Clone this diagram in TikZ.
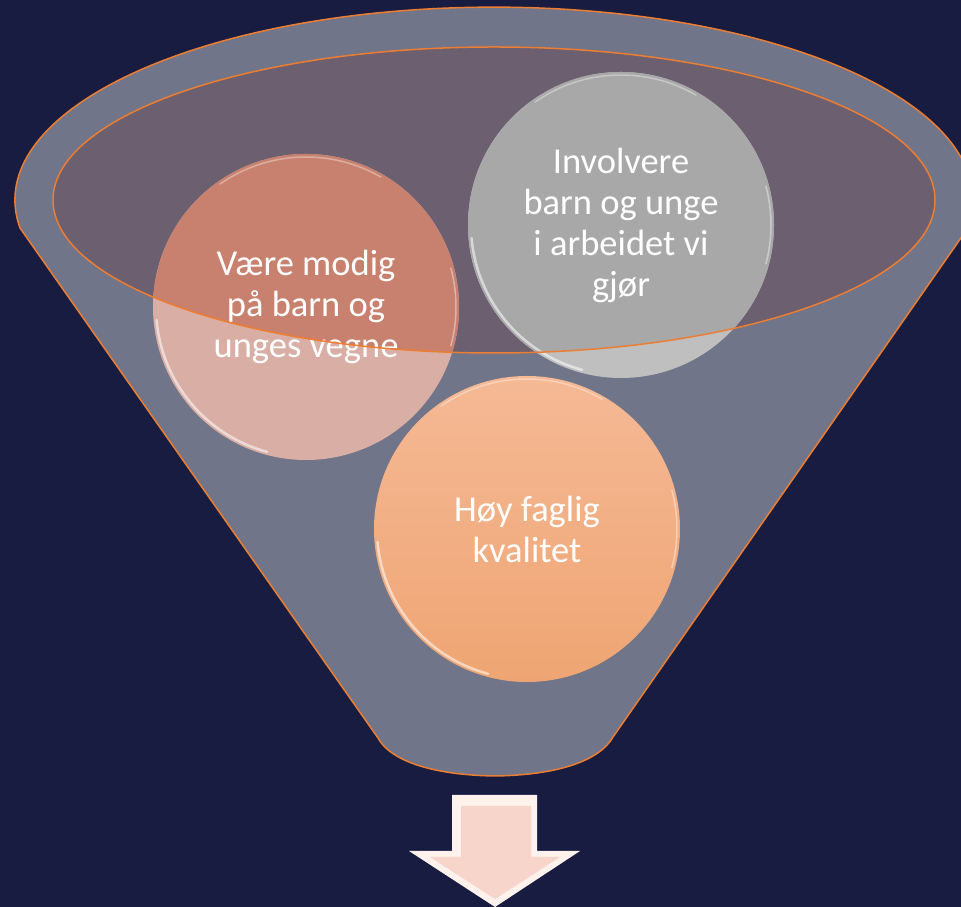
\documentclass[tikz,border=0pt]{standalone}
\usepackage{fontspec}
\setmainfont{Carlito}
\definecolor{navy}{HTML}{171C40}
\definecolor{funnelgrey}{HTML}{707589}
\definecolor{mouthfill}{HTML}{6B5F70}
\definecolor{rimorange}{HTML}{ED7D31}
\definecolor{roseout}{HTML}{D9AFA5}
\definecolor{rosein}{HTML}{C8816E}
\definecolor{greyout}{HTML}{BFBFBF}
\definecolor{greyin}{HTML}{A8A8A8}
\definecolor{peachtop}{HTML}{F5B995}
\definecolor{peachbot}{HTML}{EFA573}
\definecolor{arrowpink}{HTML}{F7D5CA}
\definecolor{arrowlight}{HTML}{FFF1EC}
\begin{document}
\begin{tikzpicture}[x=1pt,y=1pt,
	bubble/.style={circle,minimum size=306pt,inner sep=0pt,align=center,text=white,
		font=\fontsize{36.5}{41}\selectfont},
	gloss/.style={white,line width=2.5pt,opacity=.55,line cap=round},
	mouthline/.style={rimorange,line width=1.5pt}]
\fill[navy] (0,0) rectangle (961,907);
\useasboundingbox (0,0) rectangle (961,907);
\clip (0,0) rectangle (961,907);
\coordinate (mouth) at (494,707);
\filldraw[fill=funnelgrey,draw=rimorange,line width=1.5pt]
	(20,679) arc[start angle=188.3,end angle=-8.3,x radius=479,y radius=193]
	-- (613,170) .. controls (600,147) and (560,132) .. (495,131)
	.. controls (430,132) and (390,147) .. (378,169) -- cycle;
\fill[mouthfill] (mouth) ellipse[x radius=441,y radius=153];
\node[bubble,fill=roseout,
	path picture={\fill[rosein] (mouth) ellipse[x radius=441,y radius=153];}]
	(modig) at (306,600) {Være modig\\på barn og\\unges vegne};
\node[bubble,fill=greyout,
	path picture={\fill[greyin] (mouth) ellipse[x radius=441,y radius=153];}]
	(involvere) at (621,682) {Involvere\\barn og unge\\i arbeidet vi\\gjør};
\node[bubble,top color=peachtop,bottom color=peachbot]
	(kvalitet) at (527,378) {Høy faglig\\kvalitet};
\foreach \b in {modig,involvere,kvalitet}{
	\draw[gloss] ([shift={(185:150)}]\b.center) arc[start angle=185,end angle=255,radius=150];
	\draw[gloss,line width=1.5pt,opacity=.35] ([shift={(60:150)}]\b.center) arc[start angle=60,end angle=125,radius=150];
	\draw[gloss,line width=1.5pt,opacity=.4] ([shift={(-15:150)}]\b.center) arc[start angle=-15,end angle=15,radius=150];
}
\draw[mouthline] (mouth) ellipse[x radius=441,y radius=153];
\fill[arrowlight] (452,112) -- (537,112) -- (537,56) -- (580,56) -- (495,0)
	-- (409,56) -- (452,56) -- cycle;
\fill[arrowpink] (461,101) -- (531,101) -- (531,50) -- (560,50) -- (495,8)
	-- (430,50) -- (461,50) -- cycle;
\end{tikzpicture}
\end{document}
